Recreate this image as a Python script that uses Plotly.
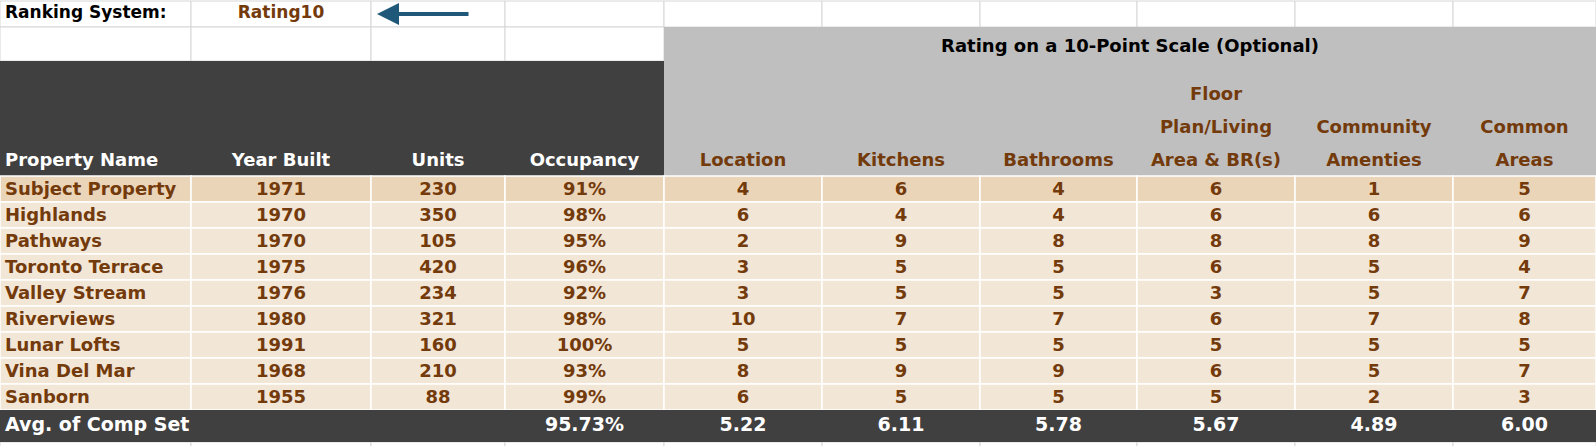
import plotly.graph_objects as go

# ---- data ----
property_names = ["Subject Property", "Highlands", "Pathways", "Toronto Terrace", "Valley Stream",
                  "Riverviews", "Lunar Lofts", "Vina Del Mar", "Sanborn"]
year_built = [1971, 1970, 1970, 1975, 1976, 1980, 1991, 1968, 1955]
units = [230, 350, 105, 420, 234, 321, 160, 210, 88]
occupancy = [91, 98, 95, 96, 92, 98, 100, 93, 99]
location = [4, 6, 2, 3, 3, 10, 5, 8, 6]
kitchens = [6, 4, 9, 5, 5, 7, 5, 9, 5]
bathrooms = [4, 4, 8, 5, 5, 7, 5, 9, 5]
floor_plan = [6, 6, 8, 6, 3, 6, 5, 6, 5]
community = [1, 6, 8, 5, 5, 7, 5, 5, 2]
common_areas = [5, 6, 9, 4, 7, 8, 5, 7, 3]

avg_label = "Avg. of Comp Set"
avg_values = ["", "", "95.73%", "5.22", "6.11", "5.78", "5.67", "4.89", "6.00"]

left_headers = ["Property Name", "Year Built", "Units", "Occupancy"]
rating_headers = [["Location"], ["Kitchens"], ["Bathrooms"], ["Floor", "Plan/Living", "Area & BR(s)"],
                  ["Community", "Amenties"], ["Common", "Areas"]]
rating_title = "Rating on a 10-Point Scale (Optional)"
ranking_label = "Ranking System:"
ranking_value = "Rating10"

# ---- layout constants (pixels) ----
W, H = 1596, 446
col_w = [191, 180, 134, 159, 158, 158, 157, 158, 158, 143]
edges = [0]
for w in col_w:
    edges.append(edges[-1] + w)
centers = [(edges[i] + edges[i + 1]) / 2 for i in range(len(col_w))]

ROW1_B, ROW2_B = 27, 61
HEAD_B = 176
ROW_H = 26
AVG_T = HEAD_B + ROW_H * len(property_names)
AVG_B = AVG_T + 32

BROWN = "#733A0B"
DARK = "#404040"
GRAY = "#BFBFBF"
TAN_SUBJ = "#EBD5B9"
TAN = "#F2E6D6"
GRID = "#D6D6D6"
FONT = "DejaVu Sans"
PAD = 5

fig = go.Figure()
shapes = []


def rect(x0, x1, y0, y1, fill, line_color=None, line_w=0):
    shapes.append(dict(type="rect", xref="x", yref="y", x0=x0, x1=x1, y0=y0, y1=y1,
                       fillcolor=fill, line=dict(color=line_color or fill, width=line_w),
                       layer="below"))


# top white spreadsheet cells
for c in range(len(col_w)):
    rect(edges[c], edges[c + 1], 1, ROW1_B, "white", GRID, 1)
    if edges[c] < edges[4]:
        rect(edges[c], edges[c + 1], ROW1_B, ROW2_B, "white", GRID, 1)
    rect(edges[c], edges[c + 1], AVG_B, H + 5, "white", GRID, 1)

# header blocks
rect(0, edges[4], ROW2_B, HEAD_B, DARK)
rect(edges[4], W, ROW1_B, HEAD_B, GRAY)

# data cells
for r in range(len(property_names)):
    fill = TAN_SUBJ if r == 0 else TAN
    for c in range(len(col_w)):
        rect(edges[c], edges[c + 1], HEAD_B + r * ROW_H, HEAD_B + (r + 1) * ROW_H, fill, "white", 1.5)

# average row
rect(0, W, AVG_T, AVG_B, DARK)


def add_text(xs, ys, texts, color, size, pos="middle center"):
    fig.add_trace(go.Scatter(
        x=xs, y=ys, text=texts, mode="text", textposition=pos,
        textfont=dict(family=FONT, size=size, color=color, weight="bold"),
        hoverinfo="skip", showlegend=False, cliponaxis=False))


# ranking system line
add_text([PAD], [ROW1_B / 2], [ranking_label], "black", 17, "middle right")
add_text([centers[1]], [ROW1_B / 2], [ranking_value], BROWN, 17)
fig.add_annotation(x=edges[2] + 6, y=ROW1_B / 2 + 0.5, ax=edges[2] + 99, ay=ROW1_B / 2 + 0.5,
                   xref="x", yref="y", axref="x", ayref="y", text="", showarrow=True,
                   arrowhead=2, arrowsize=1.1, arrowwidth=4, arrowcolor="#1F5878")

# header labels
HEAD_LINE = HEAD_B - 15
add_text([PAD], [HEAD_LINE], [left_headers[0]], "white", 18, "middle right")
add_text(centers[1:4], [HEAD_LINE] * 3, left_headers[1:], "white", 18)
add_text([(edges[4] + W) / 2], [47], [rating_title], "black", 18)
for k, lines in enumerate(rating_headers):
    n = len(lines)
    ys = [HEAD_LINE - (n - 1 - j) * 33 for j in range(n)]
    add_text([centers[4 + k]] * n, ys, lines, BROWN, 18)

# data rows
row_y = [HEAD_B + ROW_H * (r + 0.5) + 1 for r in range(len(property_names))]
add_text([PAD] * len(property_names), row_y, property_names, BROWN, 18, "middle right")
columns = [year_built, units, [f"{v}%" for v in occupancy],
           location, kitchens, bathrooms, floor_plan, community, common_areas]
for k, vals in enumerate(columns):
    add_text([centers[k + 1]] * len(vals), row_y, [str(v) for v in vals], BROWN, 18)

# average row text
avg_y = (AVG_T + AVG_B) / 2
add_text([PAD], [avg_y], [avg_label], "white", 19, "middle right")
add_text(centers[1:], [avg_y] * len(avg_values), avg_values, "white", 19)

fig.update_layout(
    width=W, height=H,
    margin=dict(l=0, r=0, t=0, b=0),
    paper_bgcolor="white", plot_bgcolor="white",
    shapes=shapes,
    xaxis=dict(range=[0, W], visible=False, fixedrange=True),
    yaxis=dict(range=[H, 0], visible=False, fixedrange=True),
)

# page margin off so the sheet starts at the window corner
fig.write_html("out.html", config={"displayModeBar": False},
               post_script="document.body.style.margin='0';document.body.style.overflow='hidden';")
